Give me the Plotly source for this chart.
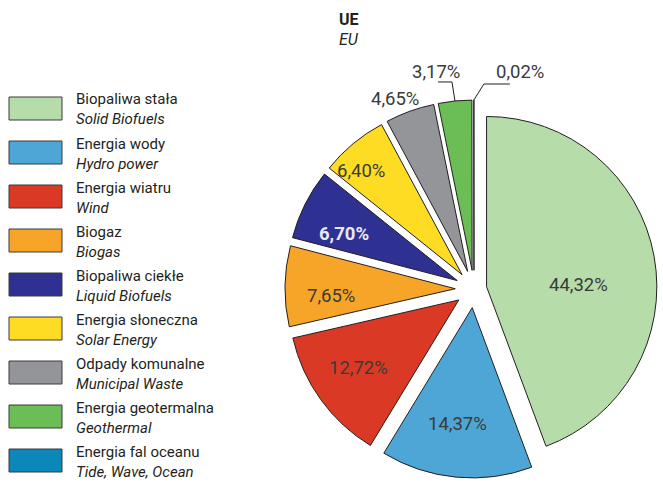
import math
import plotly.graph_objects as go

# ---------------- data ----------------
labels_pl = ["Biopaliwa stała", "Energia wody", "Energia wiatru", "Biogaz",
             "Biopaliwa ciekłe", "Energia słoneczna", "Odpady komunalne",
             "Energia geotermalna", "Energia fal oceanu"]
labels_en = ["Solid Biofuels", "Hydro power", "Wind", "Biogas",
             "Liquid Biofuels", "Solar Energy", "Municipal Waste",
             "Geothermal", "Tide, Wave, Ocean"]
shares = [44.32, 14.37, 12.72, 7.65, 6.70, 6.40, 4.65, 3.17, 0.02]
title_pl = "UE"
title_en = "EU"

# ---------------- style ----------------
W, H = 663, 482
FONT = "Roboto, sans-serif"
TXT = "#3a3a3a"
colors = ["#b6dca9", "#4da6d5", "#da3a25", "#f6a529", "#2e3192",
          "#ffdc24", "#939598", "#6bbd56", "#0b87b9"]
pulls = [0.075, 0.11, 0.11, 0.11, 0.11, 0.11, 0.11, 0.11, 0.11]
CX, CY, HB = 474, 289, 189          # pie box centre / half size (px)
# label placement (fraction of radius from slice apex, angle offset in deg)
LABEL_R = [0.54, 0.69, 0.715, 0.73, 0.72, 0.85, 1.10]
LABEL_DA = [9.1, 2, 1.7, -4.2, -4.3, -4.3, -2.9]
PCT_SIZE = 18.5
LEG_SIZE = 15
TITLE_SIZE = 16


def px(x, y):
    return x / W, 1 - y / H


def fmt(v):
    return f"{v:.2f}".replace(".", ",") + "%"


fig = go.Figure()
fig.add_trace(go.Pie(
    values=shares, labels=labels_en, sort=False, direction="clockwise",
    rotation=0, pull=pulls, textinfo="none", hoverinfo="skip",
    marker=dict(colors=colors, line=dict(color="#231f20", width=1)),
    domain=dict(x=[(CX - HB) / W, (CX + HB) / W],
                y=[1 - (CY + HB) / H, 1 - (CY - HB) / H]),
    showlegend=False,
))

R = HB / (1 + max(pulls))
total = sum(shares)
ann = []
shapes = []
cum = 0.0
geo = []
for i, v in enumerate(shares):
    mid = (cum + v / 2) / total * 360.0
    cum += v
    th = math.radians(mid)
    dx, dy = math.sin(th), -math.cos(th)
    ax, ay = CX + pulls[i] * R * dx, CY + pulls[i] * R * dy
    geo.append((ax, ay, dx, dy))
    if i < len(LABEL_R):
        t2 = math.radians(mid + LABEL_DA[i])
        lx = ax + LABEL_R[i] * R * math.sin(t2)
        ly = ay - LABEL_R[i] * R * math.cos(t2)
        bold = labels_en[i] == "Liquid Biofuels"
        x, y = px(lx, ly)
        ann.append(dict(x=x, y=y, xref="paper", yref="paper", showarrow=False,
                        xanchor="center", yanchor="middle", borderpad=0,
                        text=f"<b>{fmt(v)}</b>" if bold else fmt(v),
                        font=dict(family=FONT, size=PCT_SIZE,
                                  color="#e8e8f4" if bold else TXT)))


# outside labels with leader lines (geothermal, tide)
def leader(i, seg1, seg2, toff):
    ax, ay, dx, dy = geo[i]
    p0 = (ax + R * dx, ay + R * dy)
    p1 = (p0[0] + seg1[0], p0[1] + seg1[1])
    p2 = (p1[0] + seg2[0], p1[1] + seg2[1])
    for a, b in ((p0, p1), (p1, p2)):
        x0, y0 = px(*a)
        x1, y1 = px(*b)
        shapes.append(dict(type="line", xref="paper", yref="paper",
                           x0=x0, y0=y0, x1=x1, y1=y1,
                           line=dict(color="#231f20", width=1)))
    x, y = px(p1[0] + toff[0], p1[1] + toff[1])
    ann.append(dict(x=x, y=y, xref="paper", yref="paper", showarrow=False,
                    xanchor="center", yanchor="middle", borderpad=0,
                    text=fmt(shares[i]),
                    font=dict(family=FONT, size=PCT_SIZE, color=TXT)))


leader(7, (-3, -19), (-14, 0), (-16, -10))
leader(8, (10, -16), (26, 0), (36, -12))

# legend drawn as boxes + two-line text
for i in range(len(labels_pl)):
    y0 = 97 + 44 * i
    x0p, y0p = px(9, y0)
    x1p, y1p = px(62, y0 + 23)
    shapes.append(dict(type="rect", xref="paper", yref="paper",
                       x0=x0p, y0=y0p, x1=x1p, y1=y1p, fillcolor=colors[i],
                       line=dict(color="#3a3a3a", width=1)))
    x, y = px(75, y0 + 12.5)
    ann.append(dict(x=x, y=y, xref="paper", yref="paper", showarrow=False,
                    xanchor="left", yanchor="middle", align="left",
                    borderpad=0,
                    text=f"{labels_pl[i]}<br><i>{labels_en[i]}</i>",
                    font=dict(family=FONT, size=LEG_SIZE, color="#231f20")))

# title
for txt, yy in ((f"<b>{title_pl}</b>", 20), (f"<i>{title_en}</i>", 39)):
    x, y = px(338, yy)
    ann.append(dict(x=x, y=y, xref="paper", yref="paper", showarrow=False,
                    xanchor="left", yanchor="middle", text=txt, borderpad=0,
                    font=dict(family=FONT, size=TITLE_SIZE, color="#231f20")))

fig.update_layout(width=W, height=H, margin=dict(l=0, r=0, t=0, b=0),
                  paper_bgcolor="white", plot_bgcolor="white",
                  annotations=ann, shapes=shapes, showlegend=False)
fig.write_html("out.html", config={"displayModeBar": False},
               post_script="document.body.style.margin='0';"
                           "document.body.style.overflow='hidden';")
